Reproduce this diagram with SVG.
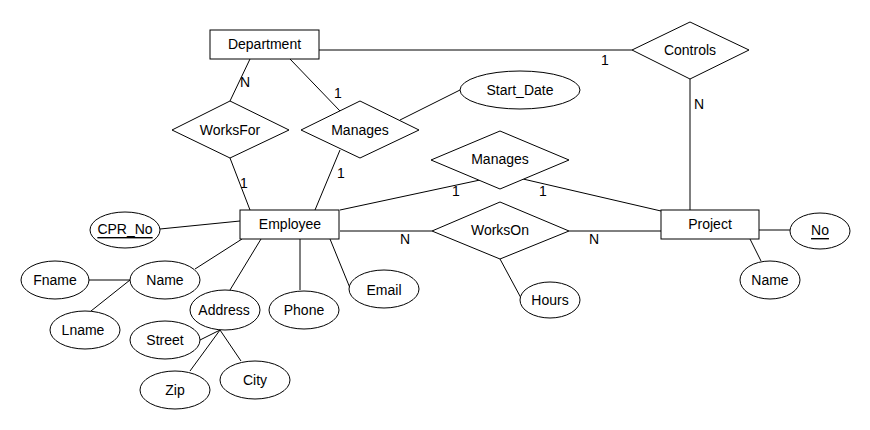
<svg xmlns="http://www.w3.org/2000/svg" width="870" height="430" viewBox="0 0 870 430">
<style>
.s{fill:#fff;stroke:#000;stroke-width:1}
.l{fill:none;stroke:#000;stroke-width:1}
text{font-family:"Liberation Sans",Arial,sans-serif;font-size:14px;fill:#000;text-anchor:middle}
.c{dominant-baseline:central}
</style>
<rect width="870" height="430" fill="#fff"/>
<g id="connectors">
<line class="l" x1="319" y1="50" x2="632" y2="50"/>
<line class="l" x1="690" y1="79" x2="690" y2="210"/>
<line class="l" x1="759" y1="230" x2="790" y2="230"/>
<line class="l" x1="750" y1="239" x2="761" y2="261"/>
<line class="l" x1="340" y1="231" x2="432" y2="231"/>
<line class="l" x1="569" y1="231" x2="661" y2="231"/>
<line class="l" x1="500" y1="259" x2="521" y2="298"/>
<line class="l" x1="160" y1="229" x2="240" y2="221"/>
<line class="l" x1="195" y1="269" x2="242" y2="239"/>
<line class="l" x1="89" y1="280" x2="130" y2="280"/>
<line class="l" x1="130" y1="280" x2="91" y2="311"/>
<line class="l" x1="230" y1="290" x2="261" y2="239"/>
<line class="l" x1="300" y1="239" x2="300" y2="290"/>
<line class="l" x1="330" y1="239" x2="350" y2="288"/>
<line class="l" x1="200" y1="340" x2="220" y2="330"/>
<line class="l" x1="190" y1="371" x2="220" y2="330"/>
<line class="l" x1="220" y1="330" x2="241" y2="361"/>
<line class="l" x1="250" y1="59" x2="230" y2="101"/>
<line class="l" x1="230" y1="158" x2="250" y2="210"/>
<line class="l" x1="290" y1="59" x2="340" y2="111"/>
<line class="l" x1="340" y1="150" x2="315" y2="210"/>
<line class="l" x1="400" y1="120" x2="460" y2="90"/>
<line class="l" x1="340" y1="210" x2="480" y2="180"/>
<line class="l" x1="523" y1="179" x2="661" y2="211"/>
<text class="c" x="245" y="82">N</text>
<text class="c" x="338" y="93">1</text>
<text class="c" x="244" y="183">1</text>
<text class="c" x="341" y="173">1</text>
<text class="c" x="605" y="60">1</text>
<text class="c" x="699" y="104">N</text>
<text class="c" x="456" y="191">1</text>
<text class="c" x="543" y="191">1</text>
<text class="c" x="405" y="239">N</text>
<text class="c" x="594" y="239">N</text>
</g>
<g id="Department"><rect class="s" x="210" y="30" width="109" height="29"/><text class="c" x="264.5" y="44">Department</text></g>
<g id="Controls"><polygon class="s" points="632,50 690,22 749,50 690,79"/><text class="c" x="690" y="50">Controls</text></g>
<g id="WorksFor"><polygon class="s" points="172,130 230,101 289,130 230,158"/><text class="c" x="230" y="130">WorksFor</text></g>
<g id="ManagesDept"><polygon class="s" points="301,130 360,101 419,130 360,158"/><text class="c" x="360" y="130">Manages</text></g>
<g id="Start_Date"><ellipse class="s" cx="520" cy="90" rx="60" ry="19"/><text class="c" x="520" y="90">Start_Date</text></g>
<g id="ManagesProject"><polygon class="s" points="431,160 500,131 569,160 500,189"/><text class="c" x="500" y="159">Manages</text></g>
<g id="Employee"><rect class="s" x="240" y="210" width="99" height="29"/><text class="c" x="290" y="224">Employee</text></g>
<g id="WorksOn"><polygon class="s" points="432,231 500,202 569,231 500,259"/><text class="c" x="500" y="230">WorksOn</text></g>
<g id="Project"><rect class="s" x="661" y="210" width="98" height="29"/><text class="c" x="710" y="224">Project</text></g>
<g id="No"><ellipse class="s" cx="820" cy="231" rx="30" ry="18"/><text class="c" x="820" y="230" text-decoration="underline">No</text></g>
<g id="ProjectName"><ellipse class="s" cx="770" cy="280" rx="30" ry="19"/><text class="c" x="770" y="280">Name</text></g>
<g id="Hours"><ellipse class="s" cx="550" cy="300" rx="30" ry="18"/><text class="c" x="550" y="300">Hours</text></g>
<g id="CPR_No"><ellipse class="s" cx="125" cy="230" rx="35" ry="18"/><text class="c" x="125" y="229" text-decoration="underline">CPR_No</text></g>
<g id="Name"><ellipse class="s" cx="165" cy="280" rx="35" ry="19"/><text class="c" x="165" y="280">Name</text></g>
<g id="Fname"><ellipse class="s" cx="55" cy="280" rx="34" ry="19"/><text class="c" x="55" y="280">Fname</text></g>
<g id="Lname"><ellipse class="s" cx="85" cy="330" rx="35" ry="19"/><text class="c" x="83" y="330">Lname</text></g>
<g id="Address"><ellipse class="s" cx="225" cy="310" rx="35" ry="20"/><text class="c" x="224" y="310">Address</text></g>
<g id="Phone"><ellipse class="s" cx="304" cy="310" rx="35" ry="19"/><text class="c" x="304" y="310">Phone</text></g>
<g id="Email"><ellipse class="s" cx="384" cy="289" rx="35" ry="19"/><text class="c" x="384" y="290">Email</text></g>
<g id="Street"><ellipse class="s" cx="165" cy="340" rx="35" ry="19"/><text class="c" x="165" y="340">Street</text></g>
<g id="Zip"><ellipse class="s" cx="175" cy="390" rx="35" ry="19"/><text class="c" x="175" y="390">Zip</text></g>
<g id="City"><ellipse class="s" cx="255" cy="380" rx="35" ry="19"/><text class="c" x="255" y="380">City</text></g>
</svg>
